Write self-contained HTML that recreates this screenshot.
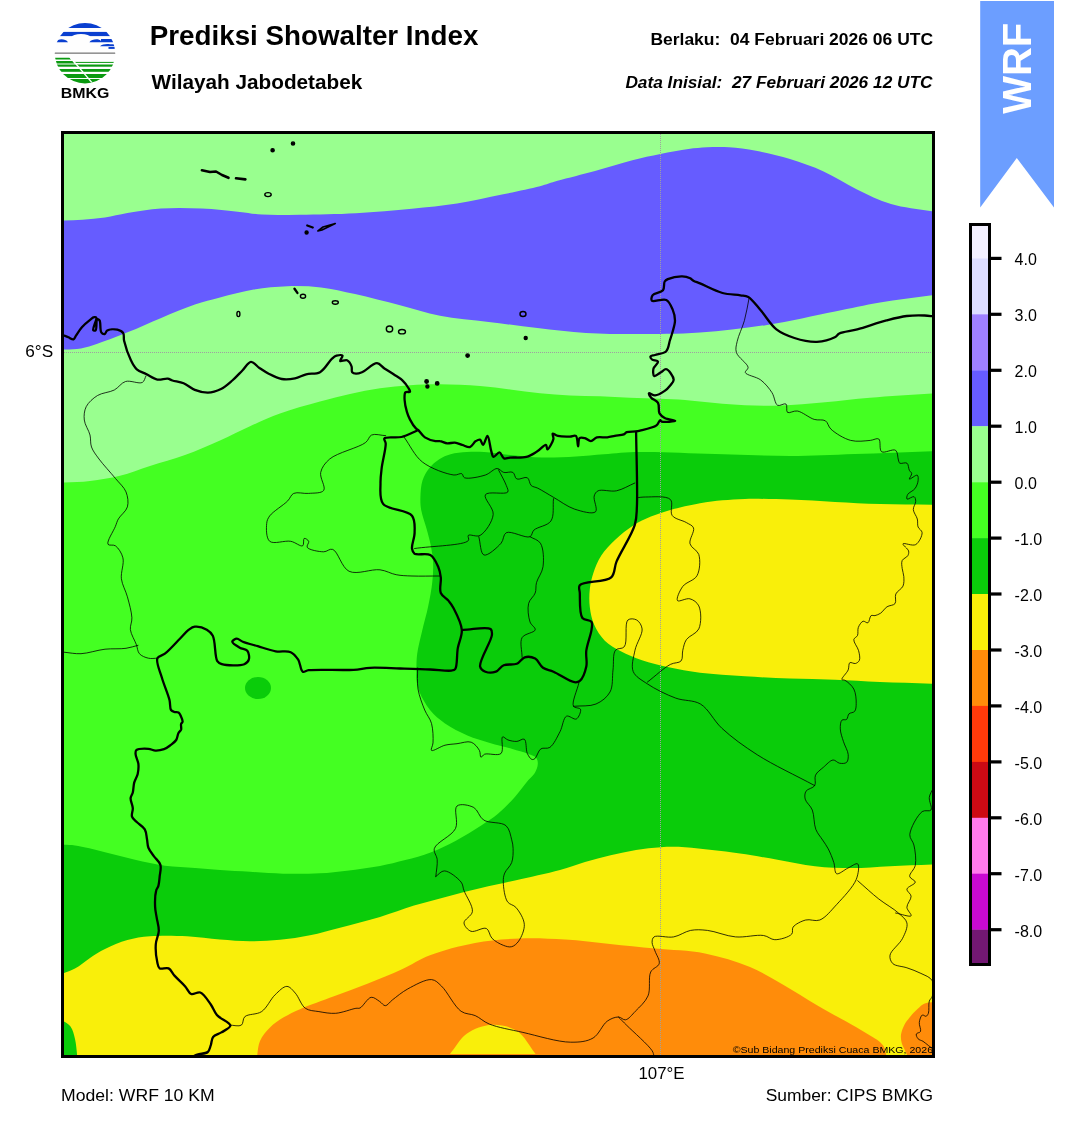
<!DOCTYPE html>
<html><head><meta charset="utf-8"><style>
html,body{margin:0;padding:0;background:#fff;width:1068px;height:1128px;overflow:hidden}
svg{position:absolute;left:0;top:0;will-change:transform}
text{font-family:"Liberation Sans",sans-serif;fill:#000}
.cbl{font-size:16px}
</style></head><body>
<svg width="1068" height="1128" viewBox="0 0 1068 1128">
<defs><clipPath id="mc"><rect x="64" y="134" width="868" height="921"/></clipPath>
<clipPath id="lc"><circle cx="85" cy="53.2" r="30.2"/></clipPath></defs>
<rect width="1068" height="1128" fill="#fff"/>
<g clip-path="url(#mc)">
<rect x="64" y="134" width="868" height="921" fill="#44ff22"/>
<path fill="#99ff8f" d="M60,130 L936,130 L936,393.2 C914,394.7 889.9,396 870,397.7 C853.6,399.1 840,400.9 825,402.2 C810,403.5 794.1,405 780,405.5 C767.6,405.9 756.2,405.7 745,405.2 C734.6,404.8 725,403.9 715,403 C705,402.1 694.6,400.7 685,400 C676.3,399.4 668.7,399.2 660,398.8 C650.5,398.4 640,398.1 630,397.7 C620,397.3 610,396.6 600,396.2 C590,395.8 580,395.9 570,395.4 C560,394.9 550,394.2 540,393.2 C530,392.2 520,390.6 510,389.4 C500,388.2 490.7,386.8 480,386 C467.6,385 452.4,384.3 440,384.2 C429.3,384.1 420,384.5 410,385.2 C400,385.9 390,386.8 380,388.2 C370,389.7 360,391.7 350,393.9 C340,396.1 330.7,398.6 320,401.5 C307.6,404.9 292.3,409 280,413.4 C269.2,417.3 260,421.7 250,426.2 C240,430.7 230.4,435.8 220,440.4 C208.8,445.4 196.8,450.7 185,455 C173.4,459.2 161.2,462.3 150,465.9 C139.6,469.2 130.1,473.2 120,475.7 C110.1,478.2 100,479.7 90,480.9 C80,482.1 70,482.1 60,482.7 Z"/>
<path fill="#665cff" d="M60,220.8 C67.5,220.4 75,220.2 82.5,219.7 C90,219.1 97.5,218.6 105,217.5 C112.5,216.4 119.2,214.4 127.4,213 C137.4,211.3 149.2,209.3 161,208.5 C173.9,207.6 188.3,207.9 201.6,208.5 C214.5,209.1 228.8,210.7 239.8,211.9 C248.2,212.8 253.6,214.1 262,214.6 C273,215.3 286.1,214.9 300,214.8 C316.9,214.6 337.3,214.3 356,213.3 C374.7,212.3 394.4,210.5 412,208.8 C427.8,207.2 442,206 457,203.6 C472,201.2 487.6,197.6 502,194.6 C515.2,191.8 529.8,189 540,186.3 C547,184.4 550.5,182.8 557.5,180.8 C567.6,177.9 582.5,174.3 595,170.9 C607.5,167.5 620.8,163.1 632.4,160.2 C642.4,157.7 651,155.9 660.4,154 C669.7,152.1 680.1,150.1 688.5,149 C695.3,148.1 700.6,147.6 707,147.3 C714,147 721.3,146.8 729,147.3 C737.6,147.9 746.5,149 756,150.8 C766.7,152.8 778.8,155.7 790,159.1 C801.3,162.6 812.6,166.5 823.6,171.5 C834.9,176.6 845.7,184 857,189.4 C868.2,194.8 878.6,200.3 891,204 C904.7,208.1 921,209.3 936,212 L936,294.6 C917.3,297.2 897.6,299.5 880,302.5 C864.1,305.2 851.5,308.2 835,311.5 C814.7,315.5 789.7,321.4 767,324.9 C744.7,328.4 722.2,331 700,332.5 C678.2,334 655.1,334.1 635,334.1 C617.5,334.1 602.3,333.9 586,332.9 C569.7,331.9 553.6,329.8 537.4,328 C521.2,326.2 504.9,323.9 488.7,321.9 C472.5,319.9 455.3,318.8 440,315.8 C425.9,313.1 413.7,308.8 400,305.3 C385.5,301.6 369,297.2 355,294.1 C342.9,291.4 332.4,288.7 321,287.4 C309.8,286.1 298.6,285.8 287.4,286.2 C276.2,286.6 264.9,287.7 253.7,289.6 C242.4,291.5 230.4,294.8 220,297.5 C211,299.8 203.8,301.5 194.9,304.5 C184.4,308 172.4,313.3 161.2,317.9 C149.9,322.5 138.8,327.8 127.5,332.3 C116.3,336.8 103.1,342 93.7,344.9 C87.2,346.9 82.6,348.3 76.9,349.1 C71.3,349.9 65.6,349.4 60,349.5 Z"/>
<path fill="#0acc0a" d="M936,451 C909,452 880.5,453.1 855,454 C832.1,454.8 812.4,456 790,456 C765.9,456 740,454.7 715,454 C690,453.3 660.5,451.6 640,452 C625.8,452.2 615.2,453.4 604,454.2 C594.1,454.9 585.8,455.9 576,456.4 C565.2,457 553.2,457.8 542,457.5 C531.2,457.3 520.1,456 510,455 C500.9,454.1 491.8,452.4 484,452 C477.7,451.6 472.6,451.6 467,452 C461.5,452.4 455.5,452.8 450.6,454.2 C446.4,455.4 442.8,456.9 439.3,459.2 C435.6,461.6 432,464.7 429.2,468.2 C426.4,471.8 424,476 422.5,480.6 C420.9,485.6 420.6,492.2 420.4,497.4 C420.3,501.9 420.4,505.4 421.2,510 C422.2,515.8 425.1,523.1 426.7,529.2 C428.2,534.7 429.6,539.6 430.7,545.1 C431.8,550.8 432.8,556.7 433.1,562.7 C433.4,568.9 433,575.2 432.3,581.9 C431.5,589.5 430,597.7 428.3,605.8 C426.6,614.2 423.9,623.1 422,631.4 C420.2,639.1 418.1,646.9 417.2,653.8 C416.4,659.5 416.5,665 416.4,669.7 C416.3,673.5 416,676.5 416.5,680 C417,683.9 417.8,687.7 419.5,692 C421.8,697.5 425.7,704.7 430,710 C434.2,715.2 439.2,719.4 445,723.4 C451.5,727.9 459.8,732.1 467.4,735.4 C474.8,738.6 482.4,740.6 489.9,742.9 C497.4,745.1 505.7,747 512.4,748.9 C517.9,750.5 523,751.7 527.3,753.4 C530.7,754.8 534.6,755.8 536.3,757.9 C537.6,759.5 537.9,761.7 537.8,763.9 C537.7,766.6 536.4,770.2 534.8,772.9 C533.2,775.6 530.9,777.1 528.4,780 C524.7,784.4 519.8,791.4 514.9,796.9 C509.7,802.7 503.8,808.8 498,813.7 C492.6,818.2 487.5,821.4 481.2,825.5 C473.7,830.4 464.5,836.2 455.9,840.7 C447.6,845.1 439.2,849.2 430.6,852.5 C422.3,855.7 413.8,857.8 405.3,860.1 C396.9,862.3 389,864.3 380,866 C369.8,867.9 357.5,869.5 347,870.7 C337.6,871.8 329.7,872.8 320,873.3 C308.6,873.9 295,874 283,873.7 C271.7,873.4 260.7,872.4 250,871.8 C239.8,871.2 229.5,870.8 220,870.1 C211.3,869.5 203.7,868.7 195,868 C185.5,867.2 175,867.1 165,865.7 C155,864.3 145,861.9 135,859.7 C125,857.4 115,854.6 105,852.2 C95,849.8 83.3,846.6 75,845.5 C69.2,844.7 65,845 60,844.7 L60,1059 L936,1059 Z"/>
<path fill="#f9ef0a" d="M60,974.4 C65,972.4 70.1,971 75,968.4 C80.2,965.6 84.9,961.2 90,957.9 C94.9,954.7 99.4,951.8 105,949 C111.6,945.7 119.8,942.1 127.4,940 C134.8,937.9 141.5,936.9 150,936.2 C160.8,935.3 175,935.6 187,936.2 C198.3,936.8 209.3,938.7 220,939.5 C230.2,940.3 240,941.2 250,941.2 C260,941.2 270,940.7 280,939.7 C290,938.7 300,937.2 310,935.2 C320,933.2 329.3,930.5 340,927.7 C352.4,924.5 367.3,920.8 380,917 C391.9,913.4 402.7,909.1 414,905.6 C425.2,902.2 436.3,899.3 447.5,896.4 C458.7,893.5 469.8,890.7 481,888 C492.3,885.3 502.9,883.2 515,880.4 C529,877.2 547.2,873.5 560,870 C569.6,867.4 576.6,864.4 585,862 C593.5,859.5 602.1,857.3 610.6,855.3 C619.1,853.3 627.5,851.4 636,850 C644.3,848.7 652.7,847.7 661,847.2 C669.1,846.7 676.8,846.8 685,847.2 C693.7,847.7 702.9,849 712,850 C721.3,851.1 730,852 740,853.5 C751.6,855.2 765,857.6 777.5,859.7 C790,861.8 802.5,864.8 815,866.2 C827.3,867.6 839.6,868.1 852,868.1 C864.6,868.1 876.7,866.8 890,866.2 C904.6,865.5 920.7,864.9 936,864.3 L936,1059 L60,1059 Z"/>
<path fill="#f9ef0a" d="M936,504.8 C917.3,504.6 897.6,504.6 880,504.1 C864.2,503.6 850,502.6 835,501.9 C820,501.1 805,500.1 790,499.6 C775,499.1 757.4,498.6 745,498.9 C736.2,499.1 730,499.6 722.5,500.3 C715,501 708.1,501.8 700,503.2 C690.4,504.9 677.6,507.8 668.7,510.4 C661.9,512.4 656.7,514.1 650.9,516.6 C644.9,519.1 638.9,521.8 633.2,525.5 C627.1,529.4 620.9,534.5 615.5,539.6 C610.3,544.6 605,549.8 601.3,555.6 C597.7,561.1 595.2,567.4 593.3,573.3 C591.5,578.7 590.4,583.8 589.8,589.3 C589.2,595 589.1,601.1 589.8,607 C590.5,613 591.7,619.2 594.2,624.8 C596.7,630.5 600.4,636.3 604.8,640.7 C609.2,645.1 614.9,648.2 620.8,651.3 C627.2,654.7 634.4,657.6 642,660.2 C650.3,663 659.4,665.3 668.7,667.3 C678.7,669.5 688.6,671.4 700,672.8 C713.6,674.5 730,675.3 745,676.3 C760,677.3 775,678 790,678.6 C805,679.2 820,679.1 835,679.7 C850,680.3 864.2,681.3 880,682 C897.6,682.7 917.3,683.2 936,683.8 Z"/>
<path fill="#ff8c0a" d="M256.7,1059 C257.8,1053 257.7,1046.3 260,1041 C262.2,1035.9 266.1,1031.4 270,1027.5 C274,1023.5 278.7,1020.3 283.7,1017.3 C288.9,1014.1 293.9,1011.8 300.6,1008.9 C309.8,1004.9 322.8,1000.5 334,996.3 C345.3,992.1 356.7,988.1 368,983.6 C379.4,979.1 391.3,974.2 402,969.3 C411.9,964.8 419.3,959.4 430,955.3 C443,950.3 459.9,945.8 475,943 C489.9,940.2 505,939.1 520,938.5 C535,937.9 550,938.7 565,939.6 C580,940.5 595,942.5 610,944 C625,945.5 639.6,947.1 655,948.6 C671.2,950.2 688.9,950.3 705,953.5 C720.5,956.6 736.3,961.4 750,967 C762.3,972.1 772.5,978.7 783.6,985 C794.8,991.4 805.8,998.6 817,1005.2 C828.2,1011.7 841.3,1018.7 851,1024.3 C858.3,1028.5 864.9,1032.3 870,1035.5 C873.6,1037.7 876.6,1039.2 879,1041.3 C881.1,1043.1 882.7,1044.6 884,1047 C885.6,1050.1 886,1055 887,1059 Z"/>
<path fill="#ff8c0a" d="M936,1002 C932.3,1002.5 928,1002.2 924.8,1003.5 C921.9,1004.7 919.9,1006.8 917.5,1009 C914.8,1011.4 911.9,1014.6 909.6,1017.5 C907.5,1020.1 905.5,1022.6 904.1,1025.4 C902.7,1028.3 901.4,1031.6 901,1034.6 C900.7,1037.3 901,1040.1 901.6,1042.5 C902.1,1044.7 903.1,1046.3 904.1,1048.6 C905.4,1051.6 907.4,1055.5 909,1059 L936,1059 L936,1002 Z"/>
<path fill="#f9ef0a" d="M450,1054 C455.6,1047.3 459.8,1038.7 466.7,1033.8 C473.7,1028.9 483.5,1025.2 492,1024.8 C500.3,1024.4 509.9,1026.5 517,1031 C524.6,1035.8 529.4,1046.3 535.6,1054 Z"/>
<path fill="#0acc0a" d="M60,1019 C63.5,1021.5 68,1023.2 70.5,1026.5 C73,1029.8 73.9,1034.3 75,1039 C76.4,1044.8 76.7,1052.3 77.5,1059 L60,1059 Z"/>
<ellipse cx="258" cy="688" rx="13" ry="11" fill="#0acc0a"/>
<g fill="none" stroke="#a0a0a0" stroke-width="1" stroke-dasharray="1,1">
<path d="M64,352.5 H932"/><path d="M660.5,134 V1055"/>
</g>
<g fill="none" stroke="#000" stroke-width="0.8" stroke-linejoin="round" stroke-linecap="round">
<path d="M146,375.8 C144.8,378 144.6,381.2 142.4,382.4 C139.1,384.3 130.3,380 125.5,381.5 C121.1,382.9 118.6,387.7 114.3,390 C109.4,392.5 102.3,392.6 97.5,395.5 C93,398.3 88.4,402.4 86.2,406.7 C84.2,410.7 83.8,415.5 84.3,420 C84.8,424.9 88.8,430.2 90,435 C91,439.2 90.1,443.1 91.5,447 C93,451.2 95.8,454.6 99,459 C103.3,464.8 110.6,472.5 115.4,478.4 C119.4,483.3 124,487 126,491.9 C127.8,496.5 128.7,502.4 127.4,506.9 C126.1,511.4 120.5,515.2 118.4,518.9 C116.9,521.6 116.6,523.4 115.4,526.4 C113.5,531.1 106.5,541.5 108,544.3 C108.9,546 113.2,544.3 115.4,545.8 C118.4,547.9 121.7,553 122.9,557.8 C124.4,563.6 120.6,572.1 121.4,578.8 C122.2,585.1 125.7,590.5 127.4,596.8 C129.2,603.5 131.6,611.8 131.9,617.8 C132.1,622.3 129.9,625.6 130.4,629.7 C131,634.5 134.8,640.3 136.4,644.7 C137.6,648.1 137.5,651.5 139.4,653.7 C141.4,656 145.3,657.5 148.4,658.2 C151.3,658.9 154.4,658.2 157.4,658.2"/>
<path d="M64,652.2 C69.7,652.7 74.9,654 81,653.7 C88.3,653.3 97.2,650.1 105,649.2 C112.2,648.4 120,649.2 126,648.3 C130.6,647.6 134,646.3 138,645.3"/>
<path d="M385.7,435.7 C381,435.5 375.1,433.4 371.6,435 C368.8,436.3 368.9,439.9 365.6,442.5 C358.9,447.7 337.2,452.6 329.7,459 C324.9,463.1 321.8,467.4 320.7,472.4 C319.5,477.8 326.1,487 323.7,490.4 C321.5,493.5 313.7,492.9 308.7,493.4 C303.7,493.9 297.3,491.7 293.7,493.4 C290.8,494.8 290.4,498.1 287.7,500.9 C283.5,505.2 273,511.4 269.7,515.9 C267.8,518.6 267,520.3 266.7,523.4 C266.2,528 266,538.2 269.7,541.3 C273.6,544.6 284.8,540.2 290.7,541.3 C295.3,542.1 300.6,547 302.7,545.8 C304.3,544.9 303,538.9 304.2,538.4 C305.2,538 308.1,539.9 308.7,541.3 C309.3,542.8 306.3,545.7 307.2,547.3 C308.7,549.9 319,551.8 323.7,551.8 C327.1,551.8 329.6,548.3 332.7,549.4 C338,551.2 341.6,567.8 349.1,571.3 C357.1,575.1 371.4,568.7 380,569.8 C386.3,570.6 390.8,573.7 396.2,574.7 C401.4,575.7 406,575.8 412,576 C419.9,576.3 430.3,576 439.5,576"/>
<path d="M404,437 C410.1,445.3 414.4,455.7 422.4,462 C430.8,468.6 446.8,474.2 453.9,475 C457.3,475.4 460,472.9 461.8,473.7 C463.2,474.3 462.7,476.9 464.4,477.7 C467.9,479.3 479.6,476.9 485.4,475 C490.1,473.5 493.9,468.4 497.2,468.5 C499.7,468.5 501.2,471.7 503.7,472.4 C506.4,473.2 510.7,471.1 512.9,472.4 C514.9,473.6 514.7,478 516.8,479 C519.2,480.2 524.9,476.4 527.3,477.7 C529.5,478.9 529.3,483.7 531.2,485.5 C532.9,487.1 535.2,486.9 537.8,488.2 C542,490.3 547.9,494.1 553.5,497.3 C560,501 567.3,506.7 574.5,509.1 C581.3,511.3 592.5,514.6 595.5,511.8 C598.1,509.3 593.1,499.7 594.2,496 C594.9,493.6 595.9,491.9 598.1,490.8 C601.8,489 610.5,492 616.5,490.8 C622.7,489.5 628.7,485.6 634.8,483"/>
<path d="M498.5,469.8 C501.1,475 504.8,481.3 506.3,485.5 C507.2,488.1 508.8,490.5 507.7,492.1 C505.6,495 487.7,490.8 485.4,494.7 C483.2,498.4 493.8,507.9 493.2,514.4 C492.6,521.5 485.3,532.5 480.1,535.4 C476.5,537.4 469.9,533.8 468.3,535.4 C467.3,536.4 469.6,539.1 468.3,540.6 C464.1,545.5 432.5,545.9 414.6,548.5"/>
<path d="M478.8,536.7 C480.5,542.8 480.4,553.7 484,555 C487.7,556.3 497.3,547.5 501.1,543.2 C503.9,539.9 503,534.4 506.3,532.7 C511,530.3 525.7,538.7 530,536.7 C532.4,535.6 531.7,532.2 533.9,530.1 C537.4,526.8 547.6,525.9 550.9,521 C554.5,515.7 552.6,506.1 553.5,498.7"/>
<path d="M530,536.7 C533.5,538.9 538.1,539.6 540.4,543.2 C543.6,548.2 544,559.8 543,566.8 C542.2,572.7 537.8,577.8 536.5,582.6 C535.5,586.4 536.4,589.7 535.2,593 C533.9,596.6 529.6,599.3 528.6,603.5 C527.3,608.6 528.4,617.2 530,621.9 C531.1,625.3 535.7,627.4 535.2,629.8 C534.5,632.8 524.4,633.5 522.1,637.6 C519.5,642.2 522.1,650.7 522.1,657.3"/>
<path d="M417.6,668 C417.7,675 416.9,682.1 418,689 C419.2,696.1 422.2,703.9 424.7,710 C426.8,715.1 430.1,718.4 431.5,723.4 C433.1,729.2 433.3,737.9 433,742.9 C432.8,746 430.4,749.5 431.5,750.4 C433,751.7 440.6,746.3 445,745.2 C449.1,744.2 452.8,744.2 457,743.7 C461.5,743.2 467.4,740.8 471.2,742.2 C474.7,743.4 477.8,747.6 479.4,750.4 C480.6,752.6 479.9,756.8 480.9,757.2 C481.8,757.5 482.8,754.9 484.6,754.2 C488,752.9 498.1,756.3 501.1,753.4 C504.1,750.5 500.6,737.9 502.6,736.9 C503.8,736.3 505.8,739.2 507.9,739.9 C510.4,740.8 514.1,741.6 516.9,741.4 C519.5,741.2 522.6,738.2 524.3,739.2 C526.7,740.6 525.7,749.8 527.3,753.4 C528.5,756 530.3,758.8 531.8,759.4 C532.8,759.8 533.8,759.4 534.8,758.7 C536.8,757.3 538.1,750.7 540.8,748.9 C543.2,747.3 547.1,749.2 549.8,747.4 C553.7,744.8 557.2,737 560,731.7 C562.7,726.6 563.2,717.8 566.5,716.2 C569.1,715 574,720.1 576.3,719 C578.7,717.9 581.4,711.3 580.5,709.2 C579.8,707.4 574.6,708.5 573.5,706.3 C571.5,702.3 577.2,690.4 579,682.5"/>
<path d="M573.5,706.3 C581,705.5 589.7,706.7 596,704 C601.7,701.6 607.1,697.3 610,692 C613.2,686.2 612.1,677.1 613,670 C613.9,663.2 612.6,653.9 615.5,650.2 C617.5,647.7 622.2,649.4 624.3,646.7 C627.9,642.2 624.2,623.2 627.9,620 C630,618.2 634.4,618.7 636.7,620 C639.2,621.4 641.7,625.2 642.1,628.9 C642.7,634.4 636.5,643 635,650.2 C633.6,657.2 630.9,665.8 633.2,671.5 C635.4,676.9 641.6,680 647.4,683.9 C655,689 666.4,694.7 675.7,698.1 C684.1,701.2 693.2,699.7 700.6,704.1 C708.8,709.1 713.4,720.4 721.8,728.2 C731.7,737.4 743.7,746.1 757.3,754.8 C773.8,765.3 795.6,775.3 814.7,785.6"/>
<path d="M636.7,497.7 C639.7,497.5 641.9,497 645.6,497 C651.8,497.1 666.3,495.4 670.4,499.5 C673.7,502.8 669.5,511.6 672.2,515.5 C674.9,519.3 682.6,520.2 686.4,522.6 C689.3,524.4 692.5,525.2 693.5,527.9 C694.9,531.5 688.9,539.2 690,543.8 C691,548 697.4,550 698.8,554.5 C700.5,560.1 700,570.3 697,575.7 C694.3,580.6 686.1,582 682.8,586.4 C679.8,590.4 676,598.7 677.5,600.6 C678.9,602.3 686.3,597.8 689.9,598.8 C693.3,599.7 697.1,602.3 698.8,605.9 C701.3,611 701.5,623.1 698.8,628.9 C696.6,633.8 689.1,635.6 686.4,639.6 C684.2,642.9 683.7,646.6 682.8,650.2 C681.9,653.7 683.1,658.5 681.1,660.9 C679,663.3 674.4,662.3 670.4,664.4 C663.9,667.8 655.1,676.2 647.4,682.1"/>
<path d="M749.2,297.5 C747.6,305.2 746.5,313.2 744.4,320.6 C742.4,327.8 738.4,335.4 737.2,341.3 C736.3,345.5 735.2,348.7 736.4,352.5 C737.9,357.4 747.8,363.7 748.1,367.4 C748.3,369.5 744.8,370.9 745.3,372.5 C746.2,375.3 756.3,376.6 760.8,380 C765.2,383.4 769.1,388.2 772,392.7 C774.6,396.7 774.8,403.8 777.6,405.3 C779.8,406.5 784.3,402.8 786,404 C787.7,405.2 785.8,411.2 787.5,412.4 C789.4,413.7 793.7,410.4 797.3,411 C802.3,411.8 809,417.8 814.2,419.4 C818.2,420.6 822.6,419.1 825.4,420.8 C828.1,422.5 828.1,426.5 831,429.2 C835.3,433.2 843.9,438.6 850.7,440.4 C857,442.1 865.1,440.8 870.3,440.4 C873.7,440.1 876.9,437.7 878.8,439 C881.1,440.6 878.9,449.8 881.6,451.7 C884.4,453.7 892.9,448.4 895.6,450.3 C897.9,451.9 897.6,457.7 898.4,460 C898.9,461.4 898.8,462.6 899.8,463.2 C901.2,464.1 905.4,462 907,463.2 C908.6,464.4 908.4,468.5 909.4,470.4 C910.1,471.7 911.6,472.3 911.7,473.6 C911.9,475.1 908.8,478.6 909.4,479.1 C910.1,479.7 915.9,474.5 917.3,475.2 C918.4,475.8 918.3,478.7 918.1,480.7 C917.8,483.2 916.6,486.5 914.9,488.7 C913.2,491 909,492.3 907.8,494.3 C906.9,495.8 906.3,498.5 907,499.1 C907.9,499.8 912.7,496 914.1,496.7 C915.3,497.3 915.7,499.7 915.7,501.5 C915.7,503.8 913.2,506.7 913.3,509.5 C913.5,512.6 916.5,515.9 917.3,519 C918,521.7 917.2,524.7 918.1,527 C918.9,529.2 922,530.3 922.1,532.6 C922.3,535.8 919,542.8 915.7,544.6 C912.5,546.4 903.7,542.4 903,543.8 C902.4,545 908,548.7 908.6,551 C909,552.6 908.6,554.3 907.8,555.7 C906.8,557.5 903.2,558.4 902.2,560.5 C901.2,562.7 901.9,565.8 902.2,568.5 C902.5,571.2 903.6,573.7 903.8,576.5 C904,579.5 904.2,583.2 903,586.1 C901.7,589.1 897.1,591 895.8,594 C894.6,596.9 896.6,601.5 895,603.6 C893.5,605.6 889.4,605.2 887,606.8 C884.6,608.4 882.8,611.7 880.6,613.2 C878.8,614.4 876.7,615.2 875,615.6 C873.6,615.9 872.2,614.9 871.1,615.6 C869.6,616.6 869.5,622.1 867.9,622.8 C866.6,623.4 864.6,620.8 863.1,621.2 C861.3,621.8 859.2,625.1 858.3,627.5 C857.4,629.9 858.4,633.4 857.5,635.5 C856.7,637.2 854.1,637.8 853.8,639.6 C853.4,642.3 857.7,647.1 858.6,650.7 C859.4,653.9 860.3,658.1 859.4,660.3 C858.7,661.9 856.9,663.1 855.4,663.5 C853.8,663.9 851,661.9 849.8,662.7 C848.4,663.7 849.2,667.4 848.2,669.9 C846.9,673 841.3,678.1 841.9,679.5 C842.2,680.3 843.8,679.6 845,680.3 C847.3,681.6 851.9,685.4 853.8,689 C855.8,692.9 856.3,699.3 856.2,703.4 C856.2,706.5 856,709.7 854.6,711.4 C853.4,712.9 850.3,712.5 849,713.8 C847.7,715.1 847.9,718.4 846.6,719.4 C845.4,720.3 843,719.1 841.9,720.2 C840.4,721.6 840.2,725.7 840.3,728.9 C840.4,732.8 842.2,737.5 843.5,741.7 C844.8,746 847.9,750.7 848.2,754.5 C848.4,757.4 848.2,761 846.6,762.4 C845.1,763.7 841.7,763.6 839.5,763.2 C837.2,762.8 835.4,759.8 833.1,760 C830.1,760.3 826.5,764.6 823.5,767.2 C820.6,769.7 816.9,772.1 815.5,775.2 C814.1,778.2 816.3,782.9 814.7,785.6 C813.1,788.3 807.5,788.7 806,791.2 C804.7,793.4 804.5,796.4 805.2,799.1 C806,802.6 810.6,805.6 812.3,810 C814.4,815.3 813.7,824 815.8,829.3 C817.5,833.6 820.4,836.6 822.6,840 C824.6,843.1 826.5,845.5 828.2,848.8 C830.3,852.8 832.4,858.1 833.8,862.5 C835.1,866.4 834.4,872.7 836.6,873.7 C838.9,874.8 844.2,869.8 847.9,868.1 C851.3,866.5 856.1,862.7 857.7,863.9 C859.6,865.3 858.4,873.9 856.3,879.3 C853.2,887.1 843.2,897.4 836.6,904.6 C831,910.6 825.6,917.7 819.8,920 C815.2,921.8 810.1,918.8 805.7,920 C801.2,921.2 795.2,924.2 793.1,927.1 C791.6,929.2 793.4,932.2 791.7,934.1 C789.1,937.1 779.8,939.8 774.8,939.7 C770.7,939.6 768.3,936.2 763.6,935.5 C756.4,934.4 744.8,937.7 735.5,936.9 C726.1,936.1 715.6,931.3 707.4,930.4 C701.1,929.7 696.1,929.4 690.6,930.4 C684.9,931.5 679.7,935.8 673.7,936.9 C667.5,938.1 657.1,934.7 654,936.9 C652.3,938.1 652.1,940.4 652.1,942.5 C652.1,945 654,947.9 655,951 C656.3,954.8 660.1,960 659.2,963.6 C658.4,967 652.6,968 650.7,972 C648,977.6 650.9,989.2 648,995.9 C645.4,1002 639.4,1007.1 635.3,1011.3 C632,1014.7 628.7,1019.3 625.5,1019.8 C623.1,1020.2 621,1017 618.4,1017 C615.1,1017 610.8,1018.6 607.2,1021.2 C602.3,1024.7 599.1,1034.5 593.1,1038 C587,1041.6 579.6,1042.3 570.7,1042.2 C557.7,1042.1 537.4,1035.7 522.9,1032.4 C510.7,1029.6 497.8,1027.6 489.2,1024 C483.3,1021.6 480,1017.7 475.2,1015.6 C470.6,1013.6 465.7,1014.5 461.1,1011.3 C454.3,1006.6 447.3,991.5 441.5,986.1 C437.9,982.8 435.8,980 431.6,979.6 C425.5,979 414.7,985.2 407.8,988.9 C401.9,992.1 396.4,996.9 392.3,1000 C389.5,1002.2 387.5,1005.7 385.3,1005.7 C383.3,1005.7 381.8,1002.8 379.7,1001.5 C377.2,1000 374.1,996.9 371.2,997.3 C367.5,997.9 363,1006.7 360,1008 C358.4,1008.7 357.8,1008 355.9,1008.3 C351.7,1009 342.2,1012.8 335.7,1013.3 C329.9,1013.7 324.2,1012.5 318.9,1011.6 C314.1,1010.8 309.2,1010.9 305.4,1008.3 C301.1,1005.3 298.8,996.9 295.3,993.1 C292.6,990.1 290,986.5 286.9,986.4 C283.3,986.3 278.9,991.2 275.1,994.8 C270.4,999.2 267,1008 261.6,1011.6 C256.7,1014.9 248.1,1013.7 244.8,1016.7 C242.5,1018.8 243.6,1023.6 241.4,1025.1 C238.9,1026.8 233.5,1025.1 229.6,1025.1"/>
<path d="M618.4,1017 C621.2,1019.8 623.2,1021.8 626.8,1025.4 C633,1031.6 648.6,1045.1 652.1,1050.7 C653.5,1052.9 653.4,1054.2 654,1056"/>
<path d="M857.7,880.7 C864.7,886.8 871.8,893.5 878.8,899 C885.3,904.1 893.4,908.4 898.4,913 C902.1,916.4 906,919 906.9,922.9 C907.9,927.3 905.1,933.3 902.6,938.3 C899.8,944.1 890.8,950.4 890,955.2 C889.5,958.3 890.7,961.5 892.8,963.6 C895.5,966.2 902.2,966.2 906.9,967.8 C911.6,969.4 916.6,971.2 920.9,973.4 C924.9,975.4 930,976.9 932,980.4 C934.2,984.3 933.3,992.5 932.3,996.2 C931.7,998.4 930,999 929.3,1001.1 C928.3,1004.2 929.4,1010.7 928.4,1013.3 C927.8,1014.8 927,1016 926,1016.3 C925,1016.6 923.3,1014.5 922.3,1015 C920.9,1015.7 919.6,1019.8 919.3,1022.4 C918.9,1025.2 921.4,1029.6 920.5,1031.5 C919.8,1032.9 916.7,1032.8 916.3,1034 C915.9,1035.2 917,1037.6 918.1,1038.8 C919.2,1040.1 921.4,1040.3 923,1041.3 C924.8,1042.5 926.7,1044.2 928.4,1045.5 C930,1046.7 931.5,1047.8 933,1049"/>
<path d="M933,788.5 C931.8,791.5 929.7,794.1 929.3,797.4 C928.8,801.2 932.6,807.7 931,810 C929.6,811.9 924.9,809.6 922.2,811.6 C917.5,815 910.2,828.4 909.8,834.6 C909.6,838.7 913,840.9 913.9,845 C915.2,850.6 916.4,859.7 915.3,865.3 C914.4,869.7 909.2,873.5 909.7,876.5 C910.1,878.9 915.4,880.2 915.3,882.1 C915.2,884.4 907.3,886.6 906.9,889.2 C906.5,891.4 910.9,893.5 911.1,896.2 C911.4,899.4 906.7,904 906.9,907.4 C907.1,910.4 912,914.5 911.1,915.8 C909.9,917.4 900.8,913.9 895.6,913"/>
<path d="M435.8,876.5 C436.3,870.9 437.6,864.7 437.2,859.7 C436.9,855.5 433.2,852.3 434.4,848.4 C436.2,842.2 451.9,836.1 455.5,828.5 C458.7,821.8 453.3,809.2 457,806 C460.2,803.3 469.3,805.1 473.8,807.5 C478.1,809.9 479,817 483.6,820 C489.1,823.6 501.4,821.6 506,825.7 C509.8,829 510.5,835.6 511.7,839.8 C512.6,843 513,845.2 513.1,848.4 C513.2,852.5 513.2,858.3 511.7,862.5 C510.3,866.5 506.1,869.6 504.7,873.1 C503.5,876.1 503.2,878.5 503.3,882.1 C503.4,887.4 504.6,897.5 507.5,901.8 C509.6,904.8 513.4,904.6 515.9,907.4 C519.3,911.3 523.9,918.6 524.3,924.3 C524.7,929.8 521.4,937.2 518.7,941.1 C516.8,943.8 514.3,946 511.7,946.7 C509.2,947.4 506.2,946.4 503.3,945.3 C499.7,943.9 494.9,941.3 492,938.3 C489.4,935.6 489.4,929.9 486.4,928.5 C482.9,926.8 474.9,932.7 471,931.3 C467.8,930.1 464.1,925.9 464,922.9 C463.9,919.4 471.8,916.1 472.4,911.6 C473.1,905.8 466,896.1 464,890.6 C462.7,887.2 463.2,884.8 461.1,882.1 C458,878.1 449,870.9 444.3,870.9 C441,870.9 438.6,874.6 435.8,876.5"/>
</g>
<g fill="none" stroke="#000" stroke-width="2.3" stroke-linejoin="round" stroke-linecap="round">
<path d="M64,335.6 C65.5,336.2 66.9,336.7 68.4,337.3 C70,338 72.2,339.8 73.5,339.4 C74.7,339 75,337.1 76,335.6 C77.5,333.3 79.6,329.8 81.9,327.2 C84.3,324.5 88.1,321.4 90.4,319.6 C91.8,318.5 92.9,317.4 94,317.2 C94.8,317 95.9,317 96.3,317.6 C97.3,319.1 92.2,328.8 93.2,330.2 C93.6,330.8 95,330.9 95.6,330.4 C97,329.3 95.9,319.8 97.2,319.2 C97.8,318.9 99,319.6 99.6,320.5 C100.9,322.4 99.8,330.2 101.3,332.3 C102.1,333.5 103.7,334.2 104.7,334 C105.7,333.8 105.8,331.4 107.2,330.6 C109.3,329.4 114.5,329.1 117.3,329.7 C119.6,330.2 122.1,331.4 123.2,333.1 C124.4,334.9 123.4,337.6 124.1,340.7 C125.3,345.7 128.3,354.8 130.8,360 C132.6,363.8 134.2,367 136.8,369.3 C139.3,371.6 142.8,372.4 146.1,374 C149.7,375.8 153.6,378.9 157.4,379.6 C160.8,380.2 165,378.3 167.7,378.7 C169.6,379 170.5,379.9 172.4,380.5 C175.3,381.4 180,381.8 183.6,383.3 C187.5,384.9 190.8,388.3 194.8,389.9 C198.9,391.5 203.6,392.8 208,392.7 C212.4,392.6 217,391 221,389 C225.1,387 228.7,383.6 232.3,380.5 C235.9,377.3 239.3,373.5 242.6,370.2 C245.5,367.3 248.1,362 251,361.8 C253.7,361.6 256.5,366 259.4,368 C262.4,370 265.3,372 268.7,373.7 C272.6,375.7 277.3,378.2 281.8,379 C286.1,379.7 290.8,379.2 295,378.4 C299,377.6 302.2,375.3 306.2,374.3 C310.5,373.2 315.9,374.4 320,372.2 C324.7,369.7 328.8,361.5 332,358.7 C333.7,357.2 334.8,356.2 336.5,355.7 C338.3,355.2 341.9,354.8 342.5,355.7 C343.1,356.6 339.6,360.2 340.2,361 C340.9,361.9 345.1,359.4 347,360.2 C348.9,361 350.7,364.1 351.5,366.2 C352.3,368.1 351.2,371 352.2,372.2 C353,373.2 354.6,373.6 356,373.7 C357.8,373.8 359.6,373.2 362,372.2 C366,370.6 372.9,363 377,363.2 C379.9,363.3 381.7,366.7 384.4,368.5 C387.6,370.6 391.8,373.1 395,375.2 C397.7,377 400.2,378.3 402.4,380.4 C404.7,382.6 407.1,385.8 408.4,388 C409.2,389.4 410.4,391 410,391.7 C409.6,392.5 406.4,391.4 405.4,392.4 C404.2,393.7 404.5,397.2 404.6,400 C404.8,403.5 405.9,408.4 406.9,411.9 C407.7,414.7 408.6,416.9 409.9,419.4 C411.4,422.3 414.2,426.7 415.9,428.4 C416.7,429.2 417.2,429.1 418.1,429.9 C419.8,431.4 422.1,435.5 424.9,437.4 C427.8,439.3 432.6,440.6 435.4,441.1 C437.2,441.4 438.2,440.8 439.9,441.1 C442.1,441.4 444.8,443.2 447.3,443.4 C449.8,443.6 452.3,442.4 454.8,442.6 C457.3,442.8 459.8,444.1 462.3,444.9 C464.8,445.6 467.6,447.7 469.8,447.1 C472.1,446.5 473.8,442.3 475.8,441.1 C477.2,440.2 478.9,439.2 480,439.6 C481.3,440.1 481.9,444.9 483,444.9 C484.4,444.9 486.2,435.8 487.5,435.9 C489.1,436.1 490,447.1 491.2,450.9 C492,453.4 492.2,456.5 493.5,456.9 C494.9,457.3 497.8,452.1 499.5,452.4 C501.2,452.6 502.1,457.6 504,458.4 C505.7,459.1 507.5,457.8 510,457.6 C514.1,457.2 521.6,458.1 526.4,456.9 C530.4,455.9 533.7,453.6 537,451.6 C540.2,449.6 544.3,444.4 545.9,444.9 C547,445.2 546.6,449.3 547.4,449.4 C548.7,449.5 552.8,441.9 553.4,438.9 C553.8,436.9 552,434.1 552.7,433.6 C553.4,433.1 555.8,435.4 557.9,435.9 C561,436.7 566.6,436.7 569.9,436.6 C572.2,436.5 574.5,434.9 575.9,435.9 C577.7,437.2 577.5,446.4 578.1,446.4 C578.7,446.4 578.1,439.3 579.6,438.1 C580.8,437.1 583.1,437.7 584.9,438.1 C586.9,438.6 588.9,441.2 590.9,441.1 C592.9,441 594.5,438.1 596.9,437.4 C599.8,436.6 604.1,437.7 607.3,437.4 C610,437.1 612.2,436.4 614.8,435.9 C617.7,435.4 621.7,435.3 623.8,434.4 C625.2,433.8 625.4,432.6 626.8,432.1 C628.9,431.3 633.4,431.7 635.8,431.4 C637.5,431.2 638.2,431.1 640,430.6 C643.7,429.7 653.2,427.9 656.5,425.4 C658.5,423.9 659.2,420.2 660.2,420.1 C660.8,420 660.8,421.3 661.7,421.6 C663.9,422.4 675.1,421.6 675.2,420.9 C675.3,420.3 667.5,419.4 664.7,417.9 C662.5,416.7 660.6,415.5 659.5,413.4 C658.1,410.8 659.6,405.6 658,402.9 C656.6,400.5 652.7,399.6 651.2,397.7 C650,396.3 648.6,393.7 649,393.2 C649.5,392.6 652.8,395.5 655,395.4 C657.9,395.3 662.1,392.7 664.7,390.9 C666.9,389.4 668.5,387.6 670,385.7 C671.5,383.9 673.8,381.9 673.7,379.7 C673.6,376.7 668.7,369.7 666.2,369.2 C664.5,368.8 662.9,371.1 661,372.2 C658.9,373.4 655.4,376.7 654.2,376 C653,375.4 652.9,370.8 653.5,368.5 C654.1,366.1 658.5,363.2 658,361.7 C657.6,360.4 653.2,360.6 652,359.5 C651.1,358.7 650.2,357.2 650.5,356.5 C650.9,355.6 653.2,355.6 655,355 C657.9,354 663.7,353.7 666.2,351.2 C668.7,348.7 668.9,343.4 670,340 C671,337.1 671.8,334.8 672.6,331.8 C673.5,328.4 675,324.3 675,320.6 C675,316.9 674.1,312.9 672.6,309.4 C671.2,306 669.4,301.5 666.3,299.9 C662.8,298.1 653.5,302.4 651.9,300.7 C650.9,299.6 651.5,296.7 652.7,295.1 C654.3,292.9 661,292.8 663,290.3 C664.7,288.1 663.5,283.4 664.7,281.5 C665.5,280.2 666.3,279.8 667.8,279.1 C670.8,277.8 678.1,276.2 682.2,276.3 C685.3,276.4 688.2,277.3 690.2,278.3 C691.6,279 692.1,280 693.4,280.7 C695.2,281.7 697.2,282.2 700,283.4 C705.3,285.6 715.3,291 722.5,293 C728.7,294.7 735.6,294.5 740.4,295.3 C743.6,295.8 745.6,295.4 748.3,296.9 C752.3,299.2 756.4,305.4 760.7,310.3 C765.7,316 770.4,324.7 776.4,329.4 C781.8,333.6 787.9,335.9 794.4,338 C801.3,340.2 809.9,342.1 816.9,341.8 C823.2,341.5 830.9,339.3 834.8,337.3 C837,336.2 837.1,334.6 839.3,333.5 C843.2,331.6 850.6,331.2 857.3,329.4 C865.9,327.1 877.6,322.7 886.5,320.4 C893.8,318.5 900.1,316.8 906.7,316 C912.8,315.3 919.7,315.3 924.7,315.5 C928.3,315.6 930.9,316.1 934,316.4"/>
<path d="M417.2,430.5 C412,432.7 407,435.7 401.5,437 C396,438.3 385.9,436.2 384.4,438.4 C383.5,439.6 385.6,441.2 385.7,443.6 C385.9,448.6 382.7,460.1 381.8,467.2 C381.1,473 380.4,477.4 380.5,483 C380.6,489.5 379.1,498.6 383.1,503.9 C388,510.3 407.2,509.6 412,515.7 C415.5,520.2 414.6,527.1 414.6,532.7 C414.6,538.1 411.4,544.7 412,548.5 C412.3,550.8 412.9,552.5 414.6,553.7 C417.5,555.6 426.3,552.7 430.3,555 C434.1,557.2 436.4,562.8 438.2,566.8 C439.7,570.3 440.3,573.4 440.8,577.3 C441.4,582 439.1,588.9 440.8,593 C442.2,596.4 446.5,598.1 448.7,600.9 C450.8,603.4 452.2,605.4 453.9,608.8 C456.6,614 461.3,623 461.8,629.8 C462.3,636 458.9,641.8 457.8,648.1 C456.6,654.8 457.5,666.2 455.2,669.1 C454.2,670.4 453.2,670.3 451.3,670.6 C447.1,671.3 437.7,669.8 430,669.5 C420.9,669.1 410,668.8 400,668.5 C390,668.2 378.5,667.4 370,667.8 C363.7,668.1 360.4,669.4 353.6,669.8 C342.3,670.5 316.7,669.2 308.7,670.2 C305.7,670.6 304.3,672.5 302.7,671.7 C300.4,670.5 300.4,663 298.2,659.7 C296.2,656.7 294,653.7 290.7,652.2 C286.8,650.4 280.9,652.2 275.7,651.3 C269.9,650.3 263.5,647.9 257.8,646.2 C252.6,644.7 246.6,643.2 242.8,641.7 C240.3,640.7 238.6,638.6 236.8,638.7 C235.2,638.8 232.4,640.5 232.3,641.7 C232.2,643.3 237.2,646.2 239.8,647.7 C242.2,649.1 245.8,648.8 247.3,650.7 C248.9,652.7 249.6,657.4 248.8,659.7 C248.2,661.7 246.7,663.2 244.3,664.2 C239.9,666 226.3,665.6 221.8,664.2 C219.6,663.5 218.5,663.1 217.3,661.2 C214.6,657 215.6,641 212.8,635.7 C211.2,632.7 209.4,631.2 206.8,629.7 C203.7,627.9 198.1,626.3 194.8,626.7 C192.4,627 190.9,628.2 188.8,629.7 C186,631.8 183.3,635.3 179.9,638.7 C175.6,643.1 169.2,650.3 164.9,653.7 C162.1,655.9 158.5,655.6 157.4,658.2 C155.7,662.2 160,671 161.9,677.7 C164,684.9 168,694 169.5,700 C170.5,703.9 169.7,708.1 171,710 C171.8,711.2 173.1,711.6 174.3,712 C175.6,712.4 177.4,711.8 178.5,712.4 C179.5,713 180.1,714.4 180.7,715.7 C181.5,717.4 182.8,720.2 182.6,721.7 C182.5,722.7 181.4,723 181.1,724 C180.7,725.4 181.6,728 181.1,729.6 C180.6,731 179.2,731.6 178.5,733 C177.5,734.9 177.5,738 176.2,740 C174.8,742.2 172.1,743.9 170,745.5 C168,747 166.3,748.4 164,749.2 C161.5,750.1 158.2,750.7 155.5,750.6 C153,750.5 151.1,749 148.4,748.8 C144.9,748.6 138,748.6 136.3,750.2 C135.3,751.1 135.5,752.6 135.6,754.2 C135.7,756.8 138.1,760.8 138.4,764.1 C138.7,767.4 138.4,770.9 137.7,774 C137,777 135,779.6 134.2,782.6 C133.4,785.7 133.5,789.7 132.8,792.5 C132.2,794.7 130.8,796 130.6,798.2 C130.4,801 132.6,804.9 132.8,808.1 C133,811 131.2,814.2 132,816.6 C132.7,818.9 135.1,820.4 137,822.3 C139.3,824.6 143.1,826.5 144.8,829.4 C146.4,832.2 146.4,836.1 147,839.3 C147.6,842.2 147.3,845.1 148.4,847.8 C149.6,850.8 152,853.5 154,856.3 C156,859.2 159.4,861.6 160.4,864.8 C161.4,868.2 160.1,872.5 159.7,876.2 C159.4,879.6 159.1,883.5 158.3,886.1 C157.8,887.9 156.7,888.4 156.2,890.4 C155.2,894 154.9,901.8 155.1,906.6 C155.2,910.5 156,913.4 156.6,917.1 C157.2,921.3 158.9,926.2 158.8,930.7 C158.7,935.2 156.1,939.3 155.8,944.2 C155.4,949.8 156.3,957.9 157.3,962.3 C157.9,964.9 158,967.3 159.6,968.4 C161.5,969.7 166.1,967.2 168.6,968.4 C171.2,969.6 172.3,973.3 174.7,975.9 C177.7,979.2 182.3,983.1 185.2,986.4 C187.6,989.1 188.6,993 191.2,994 C193.7,995 197.4,991.5 200.3,992.5 C204.1,993.9 207.9,1000.5 210.8,1004.5 C213.3,1008 214.1,1011.8 216.9,1015.1 C220.3,1019 230.4,1022.5 230.4,1025.6 C230.4,1028.1 224.4,1030.5 221.4,1032.4 C218.6,1034.2 214.9,1034.7 213.1,1036.9 C211.4,1039 211.7,1042.6 210.8,1045.2 C209.9,1047.6 209.7,1050.4 207.8,1052 C205.6,1053.9 200.4,1053.5 197.3,1054.6 C194.6,1055.6 192.4,1056.9 190,1058"/>
<path d="M463.1,629.8 C472.3,629.5 487,626.2 490.6,629 C492.3,630.3 492.1,632.3 491.9,635 C491.4,641.4 478.8,660.6 480.1,666.5 C480.7,669.3 483.1,670.8 485.4,671.7 C488.1,672.8 492.8,672.8 495.9,671.7 C498.9,670.6 500.5,666.5 503.7,665.2 C507.3,663.7 513.2,665.3 516.8,663.8 C520,662.5 521.7,658.2 524.7,657.3 C527.8,656.4 532.2,657 535.2,658.6 C538.4,660.3 539.9,665.6 543,667.8 C546,669.9 549.5,669.9 553.5,671.7 C559.4,674.2 569.8,681.7 574.5,682.2 C576.8,682.5 578.2,682.2 579.8,680.9 C582.5,678.7 585.2,671.5 586.3,666.5 C587.4,661.5 585.6,656.3 586.3,650.7 C587.1,644.2 590.8,635.1 591.5,629.8 C591.9,626.6 592.8,623.8 591.5,621.9 C590.1,619.7 584.5,620.8 582.4,618 C579.1,613.5 580.1,599 579.8,593 C579.6,589.7 578.1,587.4 579.8,585.2 C583.2,580.8 605.4,582.7 611.2,577.3 C615.4,573.5 613.9,567.8 616.5,561.6 C620.6,551.8 631.7,535.3 634.8,524.9 C636.9,517.9 636.5,514.7 636.9,506.5 C637.7,490 636.4,456.7 636.1,431.8"/>
</g>
<g fill="none" stroke="#000" stroke-width="1.4" stroke-linecap="round" stroke-linejoin="round">

<circle cx="293" cy="143.5" r="1.6" fill="#000"/>
<circle cx="272.6" cy="150.2" r="1.6" fill="#000"/>
<path d="M201.9,170.2 L210,172 L216,171.5 L222,175 L228.5,177.8" stroke-width="2.6"/>
<path d="M236,178.3 L245.4,179.4" stroke-width="2.6"/>
<ellipse cx="268" cy="194.6" rx="3.2" ry="2"/>
<path d="M307.2,225.5 L312.8,227.5" stroke-width="2.2"/>
<circle cx="306.6" cy="232.5" r="1.5" fill="#000"/>
<path d="M317.9,231 L323,227 L335.3,223.5 L322,230 Z" stroke-width="1.6"/>
<ellipse cx="238.4" cy="314" rx="1.5" ry="2.6"/>
<path d="M294.5,288.7 L297.4,292.9" stroke-width="2.4"/>
<ellipse cx="303" cy="296.3" rx="2.6" ry="2"/>
<ellipse cx="335.3" cy="302.5" rx="3" ry="1.7"/>
<ellipse cx="389.5" cy="329" rx="3.2" ry="3"/>
<ellipse cx="402" cy="331.7" rx="3.5" ry="2.2"/>
<ellipse cx="523" cy="314" rx="3" ry="2.5"/>
<circle cx="525.7" cy="338" r="1.5" fill="#000"/>
<circle cx="467.6" cy="355.6" r="1.7" fill="#000"/>
<circle cx="426.6" cy="381.5" r="1.7" fill="#000"/>
<circle cx="427.4" cy="386.5" r="1.5" fill="#000"/>
<circle cx="437.2" cy="383.4" r="1.7" fill="#000"/>

</g>
<text x="732.67" y="1052.70" font-size="9.5" font-weight="normal" font-style="normal" textLength="200.40" lengthAdjust="spacingAndGlyphs">©Sub Bidang Prediksi Cuaca BMKG, 2026</text>
</g>
<rect x="62.5" y="132.5" width="871" height="924" fill="none" stroke="#000" stroke-width="3"/>

<!-- logo -->
<g clip-path="url(#lc)">
<rect x="50" y="20" width="70" height="70" fill="#fefefe"/>
<rect x="50" y="20" width="70" height="8" fill="#0a3fd0"/>
<rect x="50" y="31.9" width="70" height="4.2" fill="#0a3fd0"/>
<ellipse cx="81" cy="37.2" rx="9.5" ry="3.2" fill="#fefefe"/>
<path d="M55,42.2 C58,38.5 65,38.2 68,42.2 Z" fill="#0a3fd0"/>
<path d="M89.4,42.2 C92,38.8 99,38.5 101,41 L101,39.1 L120,39.1 L120,42.2 Z" fill="#0a3fd0"/>
<path d="M100,46.2 C102,43.8 108,43.5 110,44.3 L120,44.3 L120,46.2 Z" fill="#0a3fd0"/>
<rect x="108.5" y="47" width="12" height="1.9" fill="#0a3fd0"/>
<rect x="50" y="52.5" width="70" height="1.3" fill="#7a7a7a"/>
<path d="M50,57.8 H69.5 L71,59.4 H50 Z" fill="#0a9a10"/>
<path d="M50,61.1 H72.5 L74.5,63.4 H50 Z" fill="#0a9a10"/>
<rect x="74" y="61.9" width="46" height="1" fill="#0a9a10"/>
<rect x="50" y="64.5" width="70" height="2.2" fill="#0a9a10"/>
<rect x="50" y="69" width="70" height="2.8" fill="#0a9a10"/>
<rect x="50" y="74" width="70" height="4" fill="#0a9a10"/>
<rect x="50" y="79" width="70" height="6" fill="#0a9a10"/>
<path d="M70,57 L94,85" stroke="#fefefe" stroke-width="1.3"/>
</g>
<text x="60.80" y="97.60" font-size="14.5" font-weight="bold" font-style="normal" textLength="48.64" lengthAdjust="spacingAndGlyphs">BMKG</text>
<text x="149.82" y="44.90" font-size="28" font-weight="bold" font-style="normal" textLength="328.53" lengthAdjust="spacingAndGlyphs">Prediksi Showalter Index</text>
<text x="151.50" y="89.30" font-size="20.5" font-weight="bold" font-style="normal" textLength="210.82" lengthAdjust="spacingAndGlyphs">Wilayah Jabodetabek</text>
<text x="650.41" y="44.90" font-size="16" font-weight="bold" font-style="normal" textLength="282.65" lengthAdjust="spacingAndGlyphs">Berlaku:  04 Februari 2026 06 UTC</text>
<text x="625.40" y="88.30" font-size="16" font-weight="bold" font-style="italic" textLength="307.13" lengthAdjust="spacingAndGlyphs">Data Inisial:  27 Februari 2026 12 UTC</text>

<!-- ribbon -->
<path d="M980.2,1 H1054 V207.4 L1016.8,157.9 L980.2,207.4 Z" fill="#6c9eff"/>
<text transform="translate(1031.3,113.8) rotate(-90)" font-size="40" font-weight="bold" fill="#fff" style="fill:#fff">WRF</text>

<rect x="970" y="226" width="20" height="32.7" fill="#f3f0ff"/>
<rect x="970" y="258.4" width="20" height="56.2" fill="#dcdcff"/>
<rect x="970" y="314.3" width="20" height="56.2" fill="#9f80ff"/>
<rect x="970" y="370.3" width="20" height="56.2" fill="#665cff"/>
<rect x="970" y="426.2" width="20" height="56.2" fill="#99ff8f"/>
<rect x="970" y="482.2" width="20" height="56.2" fill="#44ff22"/>
<rect x="970" y="538.1" width="20" height="56.2" fill="#0acc0a"/>
<rect x="970" y="594" width="20" height="56.2" fill="#f9ef0a"/>
<rect x="970" y="650" width="20" height="56.2" fill="#ff8c0a"/>
<rect x="970" y="705.9" width="20" height="56.2" fill="#ff3a0a"/>
<rect x="970" y="761.9" width="20" height="56.2" fill="#cc0a14"/>
<rect x="970" y="817.8" width="20" height="56.2" fill="#ff7aec"/>
<rect x="970" y="873.7" width="20" height="56.2" fill="#c80ad2"/>
<rect x="970" y="929.7" width="20" height="33.6" fill="#731873"/>
<rect x="970.5" y="224.5" width="19" height="740" fill="none" stroke="#000" stroke-width="3"/>
<rect x="990" y="256.8" width="11.5" height="3.2" fill="#000"/>
<text x="1014.6" y="265.4" class="cbl">4.0</text>
<rect x="990" y="312.7" width="11.5" height="3.2" fill="#000"/>
<text x="1014.6" y="321.3" class="cbl">3.0</text>
<rect x="990" y="368.7" width="11.5" height="3.2" fill="#000"/>
<text x="1014.6" y="377.3" class="cbl">2.0</text>
<rect x="990" y="424.6" width="11.5" height="3.2" fill="#000"/>
<text x="1014.6" y="433.2" class="cbl">1.0</text>
<rect x="990" y="480.6" width="11.5" height="3.2" fill="#000"/>
<text x="1014.6" y="489.2" class="cbl">0.0</text>
<rect x="990" y="536.5" width="11.5" height="3.2" fill="#000"/>
<text x="1014.6" y="545.1" class="cbl">-1.0</text>
<rect x="990" y="592.4" width="11.5" height="3.2" fill="#000"/>
<text x="1014.6" y="601" class="cbl">-2.0</text>
<rect x="990" y="648.4" width="11.5" height="3.2" fill="#000"/>
<text x="1014.6" y="657" class="cbl">-3.0</text>
<rect x="990" y="704.3" width="11.5" height="3.2" fill="#000"/>
<text x="1014.6" y="712.9" class="cbl">-4.0</text>
<rect x="990" y="760.3" width="11.5" height="3.2" fill="#000"/>
<text x="1014.6" y="768.9" class="cbl">-5.0</text>
<rect x="990" y="816.2" width="11.5" height="3.2" fill="#000"/>
<text x="1014.6" y="824.8" class="cbl">-6.0</text>
<rect x="990" y="872.1" width="11.5" height="3.2" fill="#000"/>
<text x="1014.6" y="880.7" class="cbl">-7.0</text>
<rect x="990" y="928.1" width="11.5" height="3.2" fill="#000"/>
<text x="1014.6" y="936.7" class="cbl">-8.0</text>

<text x="25.23" y="356.70" font-size="16" font-weight="normal" font-style="normal" textLength="27.92" lengthAdjust="spacingAndGlyphs">6°S</text>
<text x="638.45" y="1079.00" font-size="16" font-weight="normal" font-style="normal" textLength="46.16" lengthAdjust="spacingAndGlyphs">107°E</text>
<text x="61.10" y="1100.90" font-size="16" font-weight="normal" font-style="normal" textLength="153.55" lengthAdjust="spacingAndGlyphs">Model: WRF 10 KM</text>
<text x="765.71" y="1101.40" font-size="16" font-weight="normal" font-style="normal" textLength="167.39" lengthAdjust="spacingAndGlyphs">Sumber: CIPS BMKG</text>
</svg>
</body></html>
